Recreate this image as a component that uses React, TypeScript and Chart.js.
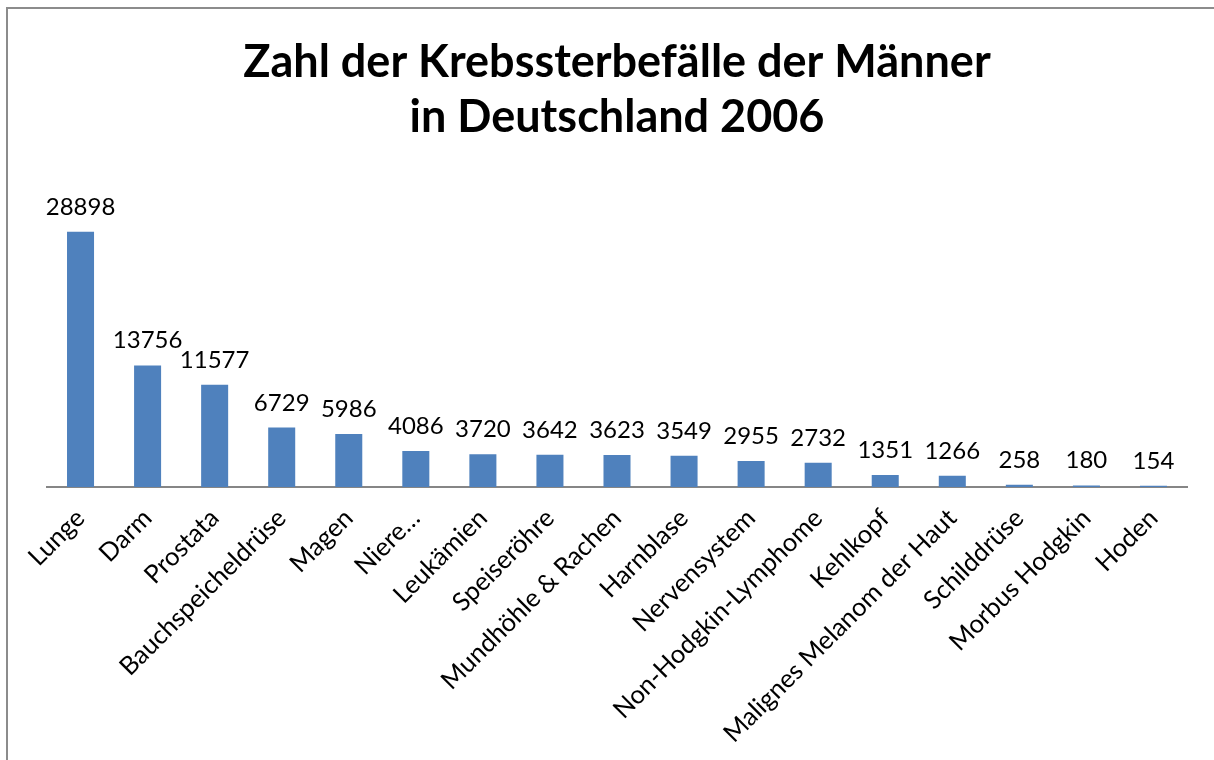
import React, { useEffect, useRef } from "react";
import { Chart, registerables } from "chart.js";

Chart.register(...registerables);

const titleLines = ["Zahl der Krebssterbefälle der Männer", "in Deutschland 2006"];
const categories = [
  "Lunge",
  "Darm",
  "Prostata",
  "Bauchspeicheldrüse",
  "Magen",
  "Niere…",
  "Leukämien",
  "Speiseröhre",
  "Mundhöhle & Rachen",
  "Harnblase",
  "Nervensystem",
  "Non-Hodgkin-Lymphome",
  "Kehlkopf",
  "Malignes Melanom der Haut",
  "Schilddrüse",
  "Morbus Hodgkin",
  "Hoden",
];
const deaths = [28898, 13756, 11577, 6729, 5986, 4086, 3720, 3642, 3623, 3549, 2955, 2732, 1351, 1266, 258, 180, 154];
const yMax = 35000;

const FONT = "Lato, 'Open Sans', sans-serif";

const valueLabels = {
  id: "valueLabels",
  afterDatasetsDraw(chart: any) {
    const ctx = chart.ctx;
    const meta = chart.getDatasetMeta(0);
    ctx.save();
    ctx.font = `24px ${FONT}`;
    ctx.fillStyle = "#000";
    ctx.textAlign = "center";
    ctx.textBaseline = "alphabetic";
    meta.data.forEach((bar: any, i: number) => {
      ctx.fillText(String(deaths[i]), bar.x, bar.y - 17);
    });
    ctx.restore();
  },
};

export default function App() {
  const ref = useRef<HTMLCanvasElement>(null);
  useEffect(() => {
    if (!ref.current) return;
    const chart = new Chart(ref.current, {
      type: "bar",
      data: {
        labels: categories,
        datasets: [
          {
            data: deaths,
            backgroundColor: "#4F81BD",
            borderWidth: 0,
            barPercentage: 0.403,
            categoryPercentage: 1,
          },
        ],
      },
      plugins: [valueLabels],
      options: {
        animation: false,
        responsive: false,
        maintainAspectRatio: false,
        layout: { padding: { left: 47, right: 27, top: 0, bottom: 0 } },
        plugins: {
          legend: { display: false },
          tooltip: { enabled: false },
          title: {
            display: true,
            text: titleLines,
            color: "#000",
            font: { family: FONT, size: 45, weight: "bold", lineHeight: 1.22 },
            padding: { top: 35, bottom: 33 },
          },
        },
        scales: {
          x: {
            grid: { display: false },
            border: { display: true, color: "#868686", width: 2 },
            ticks: {
              color: "#000",
              font: { family: FONT, size: 25.5 },
              maxRotation: 45,
              minRotation: 45,
              padding: 8,
              autoSkip: false,
            },
            afterFit: (scale: any) => {
              scale.height = 760 - 487;
              scale.paddingLeft = 0;
              scale.paddingRight = 0;
            },
          },
          y: {
            display: false,
            min: 0,
            max: yMax,
          },
        },
      },
    });
    return () => chart.destroy();
  }, []);
  return (
    <div style={{ position: "fixed", left: 0, top: 0, width: 1214, height: 760, background: "#fff" }}>
      <div
        style={{
          position: "absolute",
          left: 6,
          top: 7,
          width: 1220,
          height: 770,
          border: "2px solid #8c8c8c",
          boxSizing: "border-box",
        }}
      />
      <canvas ref={ref} width={1214} height={760} style={{ position: "absolute", left: 0, top: 0 }} />
    </div>
  );
}
